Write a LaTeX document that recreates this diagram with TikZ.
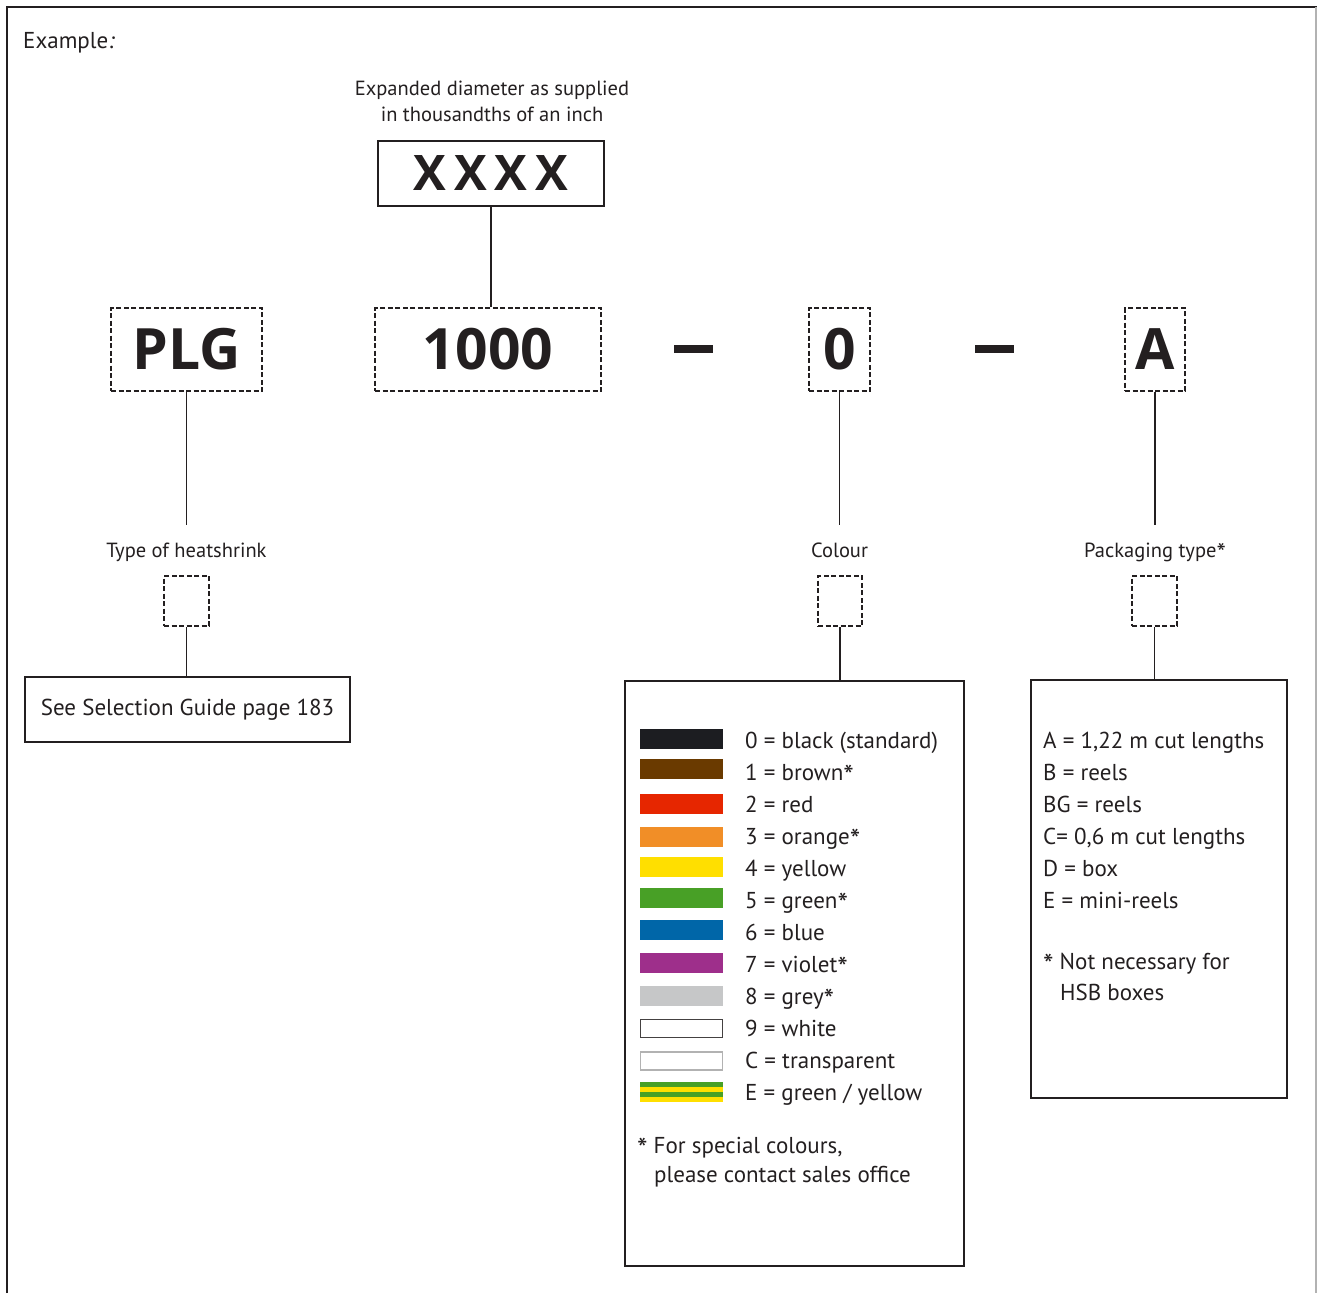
\documentclass[tikz,border=0pt]{standalone}
\usepackage{fontspec}
\setmainfont{PT Sans}
\newfontfamily\bigfont{Open Sans}
\newcommand\ftstar{\raisebox{-0.28em}{\scalebox{1.3}{*}}}
\definecolor{ink}{HTML}{231F20}
\definecolor{cblack}{HTML}{1C1D21}
\definecolor{cbrown}{HTML}{6A3A00}
\definecolor{cred}{HTML}{E62600}
\definecolor{corange}{HTML}{F18E27}
\definecolor{cyellow}{HTML}{FFDF00}
\definecolor{cgreen}{HTML}{48A026}
\definecolor{cblue}{HTML}{0066A8}
\definecolor{cviolet}{HTML}{9E2F8B}
\definecolor{cgrey}{HTML}{C6C7C8}
\tikzset{
  box/.style={draw=ink, line width=1.3pt, inner sep=0pt},
  dbox/.style={box, line width=1.6pt, dash pattern=on 5pt off 2.5pt},
  big/.style={font=\bigfont\fontsize{57}{60}\selectfont\bfseries, text=ink},
  txt/.style={font=\fontsize{23}{26}\selectfont, text=ink, inner sep=0pt},
  small/.style={font=\fontsize{20.5}{24}\selectfont, text=ink, inner sep=0pt},
  lbl/.style={small, inner ysep=18pt, text height=14pt, text depth=4pt},
  swatch/.style={minimum width=83pt, minimum height=20pt, inner sep=0pt},
  wire/.style={draw=ink, line width=1.2pt}
}
\begin{document}
\begin{tikzpicture}[x=1pt, y=-1pt]
\useasboundingbox (0,0) rectangle (1317,1293);
% frame
\draw[ink, line width=2.5pt] (7,1293) -- (7,7) -- (1317,7);
\draw[gray!60, line width=1.5pt] (1316,7) -- (1316,1293);
\node[txt, anchor=base west] (title) at (23,48) {Example\textit{:}};

% part number
\node[small, anchor=base] (diam1) at (492,95) {Expanded diameter as supplied};
\node[small, anchor=base] (diam2) at (492,121) {in thousandths of an inch};
\node[box, font=\bigfont\fontsize{49}{52}\selectfont\bfseries, text=ink, minimum width=226pt, minimum height=65pt] (xxxx) at (491,173.5) {X\hspace{8pt}X\hspace{8pt}X\hspace{8pt}X};

\node[dbox, big, minimum width=151pt, minimum height=83pt] (plg) at (186.5,349.5) {PLG};
\node[dbox, big, minimum width=226pt, minimum height=83pt] (size) at (488,349.5) {1000};
\node[fill=ink, minimum width=39pt, minimum height=8pt, inner sep=0pt] (dasha) at (693.5,349) {};
\node[dbox, big, minimum width=61pt, minimum height=83pt] (colour) at (839.5,349.5) {0};
\node[fill=ink, minimum width=39pt, minimum height=8pt, inner sep=0pt] (dashb) at (994.5,349) {};
\node[dbox, big, minimum width=60pt, minimum height=83pt] (packing) at (1155,349.5) {A};

\draw[wire] (xxxx) -- (xxxx |- size.north);

% labels
\node[lbl, anchor=north] (heat) at (186.5,525) {Type of heatshrink};
\node[lbl, anchor=north] (colourlbl) at (839.5,525) {Colour};
\node[lbl, anchor=north] (packlbl) at (1155,525) {Packaging type\ftstar};
\draw[wire] (plg) -- (heat);
\draw[wire] (colour) -- (colourlbl);
\draw[wire] (packing) -- (packlbl);

\node[dbox, minimum width=45pt, minimum height=50pt] (heatsq) at (186.5,601) {};
\node[dbox, minimum width=44pt, minimum height=50pt] (coloursq) at (840,601) {};
\node[dbox, minimum width=45pt, minimum height=50pt] (packsq) at (1154.5,601) {};

% tables
\node[box, txt, minimum width=325pt, minimum height=65pt] (guide) at (187.5,709.5) {See Selection Guide page 183};
\node[box, minimum width=339pt, minimum height=585pt] (colourbox) at (794.5,973.5) {};
\node[box, minimum width=256pt, minimum height=418pt] (packbox) at (1159,889) {};
\draw[wire] (heatsq) -- (heatsq |- guide.north);
\draw[wire] (coloursq) -- (coloursq |- colourbox.north);
\draw[wire] (packsq) -- (packsq |- packbox.north);

% colour codes
\node[swatch, fill=cblack] (s0) at (681.5,739) {};
\node[swatch, fill=cbrown] (s1) at (681.5,769) {};
\node[swatch, fill=cred] (s2) at (681.5,804) {};
\node[swatch, fill=corange] (s3) at (681.5,837) {};
\node[swatch, fill=cyellow] (s4) at (681.5,867) {};
\node[swatch, fill=cgreen] (s5) at (681.5,898) {};
\node[swatch, fill=cblue] (s6) at (681.5,930) {};
\node[swatch, fill=cviolet] (s7) at (681.5,963) {};
\node[swatch, fill=cgrey] (s8) at (681.5,996) {};
\node[swatch, draw=ink!85, line width=1.2pt, minimum width=82pt, minimum height=18pt] (s9) at (681.5,1028.5) {};
\node[swatch, draw=gray!60, line width=1.2pt, minimum width=82pt, minimum height=18pt] (sc) at (681.5,1061) {};
\node[swatch, fill=cyellow, path picture={
  \fill[cgreen] (path picture bounding box.north west) rectangle ([yshift=-5pt]path picture bounding box.north east);
  \fill[cgreen] ([yshift=-10pt]path picture bounding box.north west) rectangle ([yshift=-15pt]path picture bounding box.north east);
}] (se) at (681.5,1091.5) {};

\node[txt, anchor=base west] (t0) at (745,748) {0 = black (standard)};
\node[txt, anchor=base west] (t1) at (745,780) {1 = brown\ftstar};
\node[txt, anchor=base west] (t2) at (745,812) {2 = red};
\node[txt, anchor=base west] (t3) at (745,844) {3 = orange\ftstar};
\node[txt, anchor=base west] (t4) at (745,876) {4 = yellow};
\node[txt, anchor=base west] (t5) at (745,908) {5 = green\ftstar};
\node[txt, anchor=base west] (t6) at (745,940) {6 = blue};
\node[txt, anchor=base west] (t7) at (745,972) {7 = violet\ftstar};
\node[txt, anchor=base west] (t8) at (745,1004) {8 = grey\ftstar};
\node[txt, anchor=base west] (t9) at (745,1036) {9 = white};
\node[txt, anchor=base west] (tc) at (745,1068) {C = transparent};
\node[txt, anchor=base west] (te) at (745,1100) {E = green / yellow};
\node[txt, anchor=base west, text depth=2pt] (cnote1) at (637,1153) {\ftstar\hspace{6pt}For special colours,};
\node[txt, anchor=base west] (cnote2) at (654,1182) {please contact sales office};

% packaging codes
\node[txt, anchor=base west] (pa) at (1043,748) {A = 1,22 m cut lengths};
\node[txt, anchor=base west] (pb) at (1043,780) {B = reels};
\node[txt, anchor=base west] (pbg) at (1043,812) {BG = reels};
\node[txt, anchor=base west] (pc) at (1043,844) {C= 0,6 m cut lengths};
\node[txt, anchor=base west] (pd) at (1043,876) {D = box};
\node[txt, anchor=base west] (pe) at (1043,908) {E = mini-reels};
\node[txt, anchor=base west, text depth=2pt] (pnote1) at (1043,969) {\ftstar\hspace{6pt}Not necessary for};
\node[txt, anchor=base west] (pnote2) at (1060,1000) {HSB boxes};
\end{tikzpicture}
\end{document}
